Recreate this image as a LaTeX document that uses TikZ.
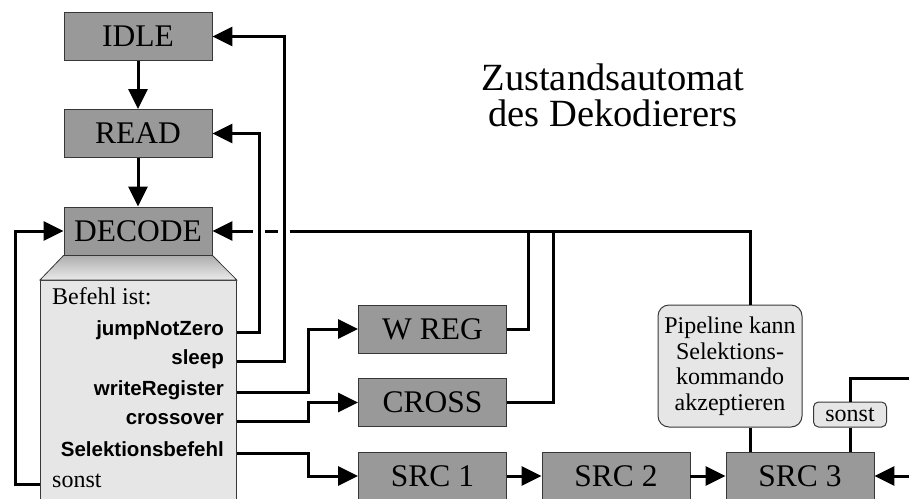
\documentclass[tikz,border=0pt]{standalone}
\usepackage{fontspec}
\setmainfont{Liberation Serif}
\newfontfamily\befehlfont{Liberation Sans}
\usetikzlibrary{arrows.meta,calc}
\definecolor{cZustand}{RGB}{153,153,153}
\definecolor{cFeld}{RGB}{230,230,230}
\definecolor{cRand}{RGB}{55,55,55}
\tikzset{
  zustand/.style={draw=cRand,line width=0.8pt,fill=cZustand,minimum width=148pt,minimum height=48pt,inner sep=0pt,font=\fontsize{31.5}{34}\selectfont},
  hinweis/.style={draw=cRand,line width=1pt,fill=cFeld,rounded corners=11pt,inner sep=0pt,align=center,font=\fontsize{24}{25.5}\selectfont},
  befehl/.style={anchor=base east,inner sep=0pt,font=\befehlfont\bfseries\fontsize{20.5}{22}\selectfont},
  eintrag/.style={anchor=base west,inner sep=0pt,font=\fontsize{24}{26}\selectfont},
  linie/.style={line width=3pt},
  pfeil/.style={line width=3pt,-{Triangle[length=20pt,width=19pt]}},
}

\begin{document}
\begin{tikzpicture}[x=1pt,y=-1pt]
\useasboundingbox (0,0) rectangle (909,498);
\clip (0,0) rectangle (909,498);
% Zustaende links
\node[zustand] (IDLE) at (138,36.5) {IDLE};
\node[zustand] (READ) at (138,133.5) {READ};
\node[zustand] (DECODE) at (138,231) {DECODE};
% Feld mit den Befehlen unter DECODE
\node[draw=cRand,line width=0.8pt,fill=cFeld,minimum width=196pt,minimum height=240pt,anchor=north west,inner sep=0pt] (feld) at (40,280) {};
\shade[top color=black!32,bottom color=black!8,draw=cRand,line width=0.8pt] (DECODE.south west) -- (feld.north west) -- (feld.north east) -- (DECODE.south east) -- cycle;
\node[eintrag] (kopf) at (52,304) {Befehl ist:};
\node[befehl] (jnz) at (224,335) {jumpNotZero};
\node[befehl] (slp) at (224,364) {sleep};
\node[befehl] (wrg) at (224,395) {writeRegister};
\node[befehl] (crs) at (224,424) {crossover};
\node[befehl] (sel) at (224,456) {Selektionsbefehl};
\node[eintrag] (snst) at (52,487) {sonst};
% Zustaende rechts
\node[zustand] (WREG) at (432.5,329) {W REG};
\node[zustand] (CROSS) at (432.5,402.5) {CROSS};
\node[zustand] (SRC1) at (432.5,476) {SRC 1};
\node[zustand] (SRC2) at (616,476) {SRC 2};
\node[zustand] (SRC3) at (800,476) {SRC 3};
\node[hinweis,minimum width=144pt,minimum height=122pt] (pipe) at (730,366) {Pipeline kann\\Selektions-\\kommando\\akzeptieren};
\node[hinweis,rounded corners=5pt,minimum width=73pt,minimum height=25pt] (sonst) at (850,414.5) {sonst};
\node[align=center,font=\fontsize{38.5}{36}\selectfont] (titel) at (613,95) {Zustandsautomat\\des Dekodierers};
% Leitungen
\coordinate (busJ) at (259,0);
\coordinate (busS) at (284,0);
\coordinate (busL) at (308,0);
\coordinate (busR) at (15,0);
\coordinate (busW) at (528,0);
\coordinate (busC) at (553,0);
\coordinate (busP) at (750,0);
\coordinate (raus) at (915,378);
\coordinate (rein) at (915,476);
\draw[pfeil] (IDLE) -- (READ);
\draw[pfeil] (READ) -- (DECODE);
\draw[pfeil] (pipe.north -| busP) |- (DECODE.east);
\draw[linie] (WREG.east) -| (busW |- DECODE.east);
\draw[linie] (CROSS.east) -| (busC |- DECODE.east);
% Kreuzungen freistellen
\foreach \b in {busJ,busS}
  \fill[white] ($(\b |- DECODE.east)+(-6,-5)$) rectangle ($(\b |- DECODE.east)+(6,5)$);
\draw[pfeil] (feld.east |- jnz.mid) -| (busJ |- READ.east) -- (READ.east);
\draw[pfeil] (feld.east |- slp.mid) -| (busS |- IDLE.east) -- (IDLE.east);
\draw[pfeil] (feld.east |- wrg.mid) -| (busL |- WREG.west) -- (WREG.west);
\draw[pfeil] (feld.east |- crs.mid) -| (busL |- CROSS.west) -- (CROSS.west);
\draw[pfeil] (feld.east |- sel.mid) -| (busL |- SRC1.west) -- (SRC1.west);
\draw[pfeil] (feld.west |- snst.mid) -| (busR |- DECODE.west) -- (DECODE.west);
\draw[pfeil] (SRC1) -- (SRC2);
\draw[pfeil] (SRC2) -- (SRC3);
\draw[pfeil] (rein) -- (SRC3.east);
\draw[linie] (SRC3.north -| busP) -- (pipe.south -| busP);
\draw[linie] (SRC3.north -| sonst) -- (sonst.south);
\draw[linie] (sonst.north) |- (raus);
\end{tikzpicture}
\end{document}
